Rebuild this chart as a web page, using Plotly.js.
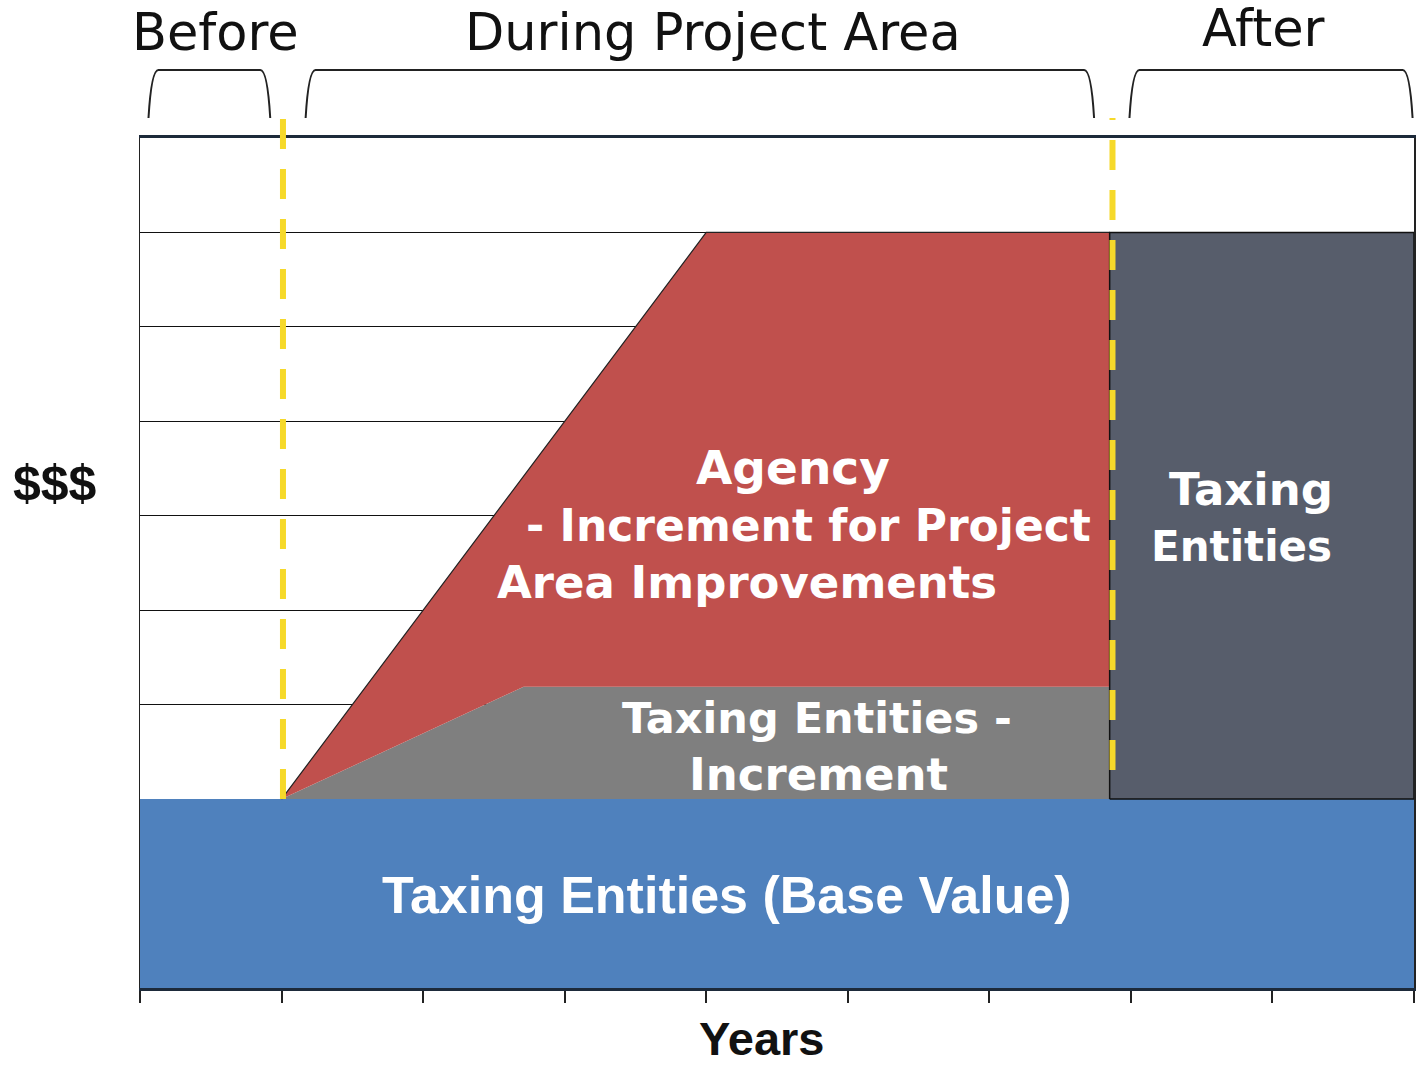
<!DOCTYPE html>
<html>
<head>
<meta charset="utf-8">
<script src="https://cdn.plot.ly/plotly-3.0.1.min.js"></script>
<style>html,body{margin:0;padding:0;background:#fff;}#chart{width:1416px;height:1070px;}</style>
</head>
<body>
<div id="chart"></div>
<script>
// ---- data (years on x, dollars on y) ----
const yearTicks = [0, 1, 2, 3, 4, 5, 6, 7, 8, 9];
const phaseNames = ["Before", "During Project Area", "After"];
const phaseStart = [0.06, 1.17, 6.99];
const phaseEnd = [0.92, 6.74, 8.99];
const projectStart = 1;          // start of project area
const projectEnd = 6.85;         // end of project area
const baseValue = 2;             // base value level
const taxIncX = [1, 2.71, 6.85]; // taxing entities increment top edge
const taxIncY = [2, 3.19, 3.19];
const agencyX = [1, 4, 6.85];    // total value top edge
const agencyY = [2, 8, 8];
const afterValue = 8;
const yMax = 9;

// ---- polygons built from data ----
const blue = {
  x: [0, yMax, yMax, 0], y: [0, 0, baseValue, baseValue],
  fill: 'toself', fillcolor: '#4f81bd', line: {width: 0}, mode: 'lines', hoverinfo: 'skip'
};
const gray = {
  x: taxIncX.concat([projectEnd]), y: taxIncY.concat([baseValue]),
  fill: 'toself', fillcolor: '#7f7f7f', line: {width: 0}, mode: 'lines', hoverinfo: 'skip'
};
const red = {
  x: agencyX.concat(taxIncX.slice().reverse()),
  y: agencyY.concat(taxIncY.slice().reverse()),
  fill: 'toself', fillcolor: '#c0504d', line: {width: 0}, mode: 'lines', hoverinfo: 'skip'
};
const redEdge = {
  x: agencyX, y: agencyY, mode: 'lines', line: {color: '#222', width: 1.2}, hoverinfo: 'skip'
};
const dark = {
  x: [projectEnd, yMax, yMax, projectEnd, projectEnd],
  y: [baseValue, baseValue, afterValue, afterValue, baseValue],
  fill: 'toself', fillcolor: '#575d6b', mode: 'lines', line: {color: '#111', width: 1.5}, hoverinfo: 'skip'
};

const F = '"DejaVu Sans", sans-serif';
const A = '"Liberation Sans", Arial, sans-serif';
const white = (t, x, y, s, fam) => ({text: '<b>' + t + '</b>', x: x, y: y, xref: 'x', yref: 'y', showarrow: false,
  xanchor: 'center', yanchor: 'middle',
  font: {family: fam || F, size: s || 44, color: '#ffffff'}});

const annotations = [
  white('Agency', 4.61, 5.51, 47),
  white('- Increment for Project', 4.72, 4.90, 44),
  white('Area Improvements', 4.29, 4.29, 45),
  white('Taxing Entities -', 4.78, 2.86, 43),
  white('Increment', 4.79, 2.26, 45),
  white('Taxing', 7.85, 5.28, 45),
  white('Entities', 7.78, 4.67, 42),
  white('Taxing Entities (Base Value)', 4.15, 0.985, 52, A),
  {text: '<b>$$$</b>', xref: 'paper', yref: 'paper', x: -0.067, y: 0.594, showarrow: false,
   xanchor: 'center', yanchor: 'middle', font: {family: A, size: 50, color: '#111'}},
  {text: '<b>Years</b>', xref: 'paper', yref: 'paper', x: 0.488, y: -0.059, showarrow: false,
   xanchor: 'center', yanchor: 'middle', font: {family: A, size: 47, color: '#111'}}
];
const phaseCenters = [0.53, 4.05, 7.94];
const phaseY = [1.1247, 1.1247, 1.129];
phaseNames.forEach((n, i) => annotations.push({text: n, xref: 'x', yref: 'paper',
  x: phaseCenters[i], y: phaseY[i], showarrow: false, xanchor: 'center', yanchor: 'middle',
  font: {family: F, size: 51, color: '#111'}}));

const yTop = 1.08, yBot = 1.0235, d = 0.07;
const shapes = [];
phaseStart.forEach((s, i) => {
  const e = phaseEnd[i];
  shapes.push({type: 'path', xref: 'x', yref: 'paper',
    path: `M ${s},${yBot} Q ${s + 0.02},${yTop} ${s + d},${yTop} L ${e - d},${yTop} Q ${e - 0.02},${yTop} ${e},${yBot}`,
    line: {color: '#222', width: 2}});
});
[[projectStart + 0.01, 1.0235, baseValue / yMax], [projectEnd + 0.02, 1.0235, (988 - 770) / 850]].forEach((p) => {
  shapes.push({type: 'line', xref: 'x', yref: 'paper', x0: p[0], x1: p[0],
    y0: p[2], y1: p[1], layer: 'above',
    line: {color: '#f6d92a', width: 6, dash: '30px,20px'}});
});

const layout = {
  width: 1416, height: 1070,
  margin: {l: 140, r: 2, t: 138, b: 82},
  paper_bgcolor: '#fff', plot_bgcolor: '#fff',
  showlegend: false, hovermode: false,
  xaxis: {range: [0, yMax], tickvals: yearTicks, showticklabels: false, ticks: 'outside',
    ticklen: 12, tickwidth: 2, tickcolor: '#222', showgrid: false, zeroline: false,
    showline: true, linecolor: '#1d2a3a', linewidth: 3, mirror: true, fixedrange: true},
  yaxis: {range: [0, yMax], dtick: 1, showticklabels: false, ticks: '', showgrid: true,
    gridcolor: '#111', gridwidth: 1.2, zeroline: false, showline: true,
    linecolor: '#222', linewidth: 1.5, mirror: true, fixedrange: true},
  annotations: annotations,
  shapes: shapes
};

Plotly.newPlot('chart', [blue, gray, red, redEdge, dark], layout, {staticPlot: true, displayModeBar: false});
</script>
</body>
</html>
